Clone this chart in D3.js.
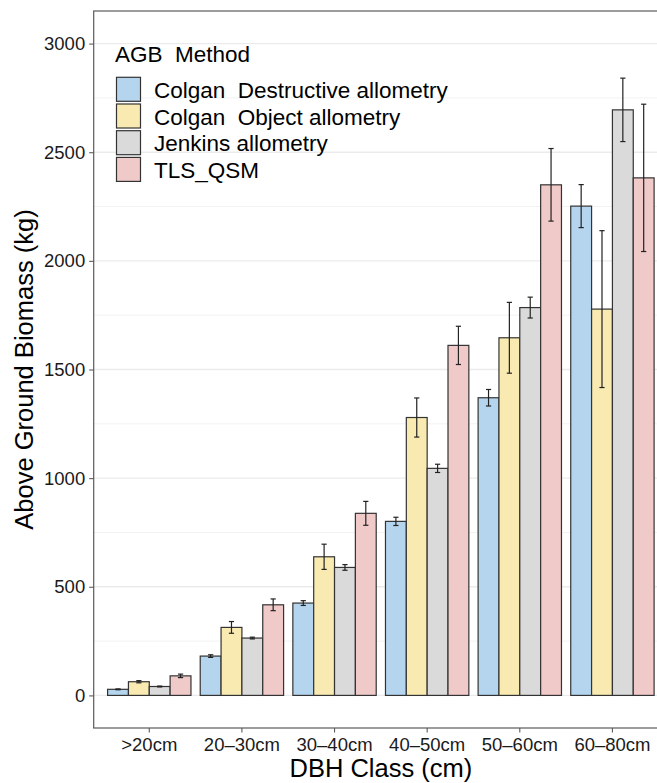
<!DOCTYPE html>
<html>
<head>
<meta charset="utf-8">
<script src="https://cdn.jsdelivr.net/npm/d3@7"></script>
<style>
  html, body { margin: 0; padding: 0; background: #fff; }
  svg { display: block; font-family: Arial, "Liberation Sans", sans-serif; }
</style>
</head>
<body>
<svg id="chart" width="657" height="783"></svg>
<script>
// DBH classes and AGB estimation methods
const categories = [">20cm", "20–30cm", "30–40cm", "40–50cm", "50–60cm", "60–80cm"];
const methods = ["Colgan  Destructive allometry", "Colgan  Object allometry", "Jenkins allometry", "TLS_QSM"];

// Mean above ground biomass (kg) per class, one array per method
const destructiveMean = [28, 181, 425, 801, 1370, 2252];
const objectMean      = [63, 313, 638, 1279, 1646, 1778];
const jenkinsMean     = [41, 264, 589, 1045, 1785, 2695];
const tlsMean         = [90, 417, 838, 1611, 2350, 2382];

// Error bar half-widths (kg)
const destructiveErr = [2, 6, 11, 19, 38, 99];
const objectErr      = [5, 27, 58, 90, 163, 361];
const jenkinsErr     = [2, 4, 13, 19, 48, 146];
const tlsErr         = [8, 27, 55, 88, 167, 339];

const yTicks = [0, 500, 1000, 1500, 2000, 2500, 3000];
const yMinorTicks = [250, 750, 1250, 1750, 2250, 2750];

const fills = ["#b5d5ee", "#f8eab0", "#dadada", "#f0c9c9"];

const means = [destructiveMean, objectMean, jenkinsMean, tlsMean];
const errs = [destructiveErr, objectErr, jenkinsErr, tlsErr];

const rows = [];
categories.forEach((c, i) => {
  methods.forEach((m, j) => {
    rows.push({ cat: c, method: m, value: means[j][i], err: errs[j][i], fill: fills[j] });
  });
});

const svg = d3.select("#chart");

const panel = { left: 93.7, right: 668, top: 11, bottom: 728 };

const x = d3.scaleBand()
  .domain(categories)
  .range([panel.left, panel.right])
  .paddingInner(0.1)
  .paddingOuter(0.15);

const xInner = d3.scaleBand()
  .domain(methods)
  .range([0, x.bandwidth()])
  .padding(0);

const yMax = 3000;
const y = d3.scaleLinear()
  .domain([-0.05 * yMax, 1.05 * yMax])
  .range([panel.bottom, panel.top]);

// Panel background
svg.append("rect")
  .attr("x", panel.left).attr("y", panel.top)
  .attr("width", panel.right - panel.left).attr("height", panel.bottom - panel.top)
  .attr("fill", "#fff");

// Grid lines
svg.append("g").selectAll("line.minor")
  .data(yMinorTicks).join("line")
  .attr("x1", panel.left).attr("x2", panel.right)
  .attr("y1", d => y(d)).attr("y2", d => y(d))
  .attr("stroke", "#f2f2f2").attr("stroke-width", 1);

svg.append("g").selectAll("line.major")
  .data(yTicks).join("line")
  .attr("x1", panel.left).attr("x2", panel.right)
  .attr("y1", d => y(d)).attr("y2", d => y(d))
  .attr("stroke", "#ebebeb").attr("stroke-width", 1.4);

// Bars
svg.append("g").selectAll("rect")
  .data(rows).join("rect")
  .attr("x", d => x(d.cat) + xInner(d.method))
  .attr("y", d => y(d.value))
  .attr("width", xInner.bandwidth())
  .attr("height", d => y(0) - y(d.value))
  .attr("fill", d => d.fill)
  .attr("stroke", "#333")
  .attr("stroke-width", 1.2);

// Error bars
const capHalf = 2.6;
const eb = svg.append("g").attr("stroke", "#222").attr("stroke-width", 1.2);
rows.forEach(d => {
  const cx = x(d.cat) + xInner(d.method) + xInner.bandwidth() / 2;
  const y1 = y(d.value + d.err), y2 = y(d.value - d.err);
  eb.append("line").attr("x1", cx).attr("x2", cx).attr("y1", y1).attr("y2", y2);
  eb.append("line").attr("x1", cx - capHalf).attr("x2", cx + capHalf).attr("y1", y1).attr("y2", y1);
  eb.append("line").attr("x1", cx - capHalf).attr("x2", cx + capHalf).attr("y1", y2).attr("y2", y2);
});

// Panel border
svg.append("rect")
  .attr("x", panel.left).attr("y", panel.top)
  .attr("width", panel.right - panel.left).attr("height", panel.bottom - panel.top)
  .attr("fill", "none").attr("stroke", "#5a5a5a").attr("stroke-width", 1.2);

// Axes
const yAxis = d3.axisLeft(y).tickValues(yTicks).tickSize(4.5).tickPadding(4).tickFormat(d3.format("d"));
const gy = svg.append("g").attr("transform", `translate(${panel.left},0)`).call(yAxis);
gy.select(".domain").remove();
gy.selectAll(".tick line").attr("stroke", "#5a5a5a").attr("stroke-width", 1.1);
gy.selectAll(".tick text").attr("fill", "#1a1a1a").attr("font-size", "18.5px")
  .attr("font-family", "Arial, 'Liberation Sans', sans-serif");

const xAxis = d3.axisBottom(x).tickSize(4.5).tickPadding(5);
const gx = svg.append("g").attr("transform", `translate(0,${panel.bottom})`).call(xAxis);
gx.select(".domain").remove();
gx.selectAll(".tick line").attr("stroke", "#5a5a5a").attr("stroke-width", 1.1);
gx.selectAll(".tick text").attr("fill", "#1a1a1a").attr("font-size", "18.5px")
  .attr("font-family", "Arial, 'Liberation Sans', sans-serif");

// Axis titles
svg.append("text")
  .attr("x", (panel.left + panel.right) / 2).attr("y", 777)
  .attr("text-anchor", "middle").attr("font-size", "25.5px").attr("fill", "#000")
  .text("DBH Class (cm)");

svg.append("text")
  .attr("transform", `translate(33,${(panel.top + panel.bottom) / 2}) rotate(-90)`)
  .attr("text-anchor", "middle").attr("font-size", "25.5px").attr("fill", "#000")
  .text("Above Ground Biomass (kg)");

// Legend
const legend = svg.append("g");
legend.append("text")
  .attr("x", 115).attr("y", 61.5)
  .attr("font-size", "22.5px").attr("fill", "#000")
  .style("white-space", "pre")
  .text("AGB  Method");

const keySize = 24, keyStep = 26.7, keyTop = 77.3;
methods.forEach((m, j) => {
  const ky = keyTop + j * keyStep;
  legend.append("rect")
    .attr("x", 116.5).attr("y", ky)
    .attr("width", keySize).attr("height", keySize)
    .attr("fill", fills[j]).attr("stroke", "#333").attr("stroke-width", 1.2);
  legend.append("text")
    .attr("x", 154).attr("y", ky + 20.5)
    .attr("font-size", "22.5px").attr("fill", "#000")
    .style("white-space", "pre")
    .text(m);
});
</script>
</body>
</html>
